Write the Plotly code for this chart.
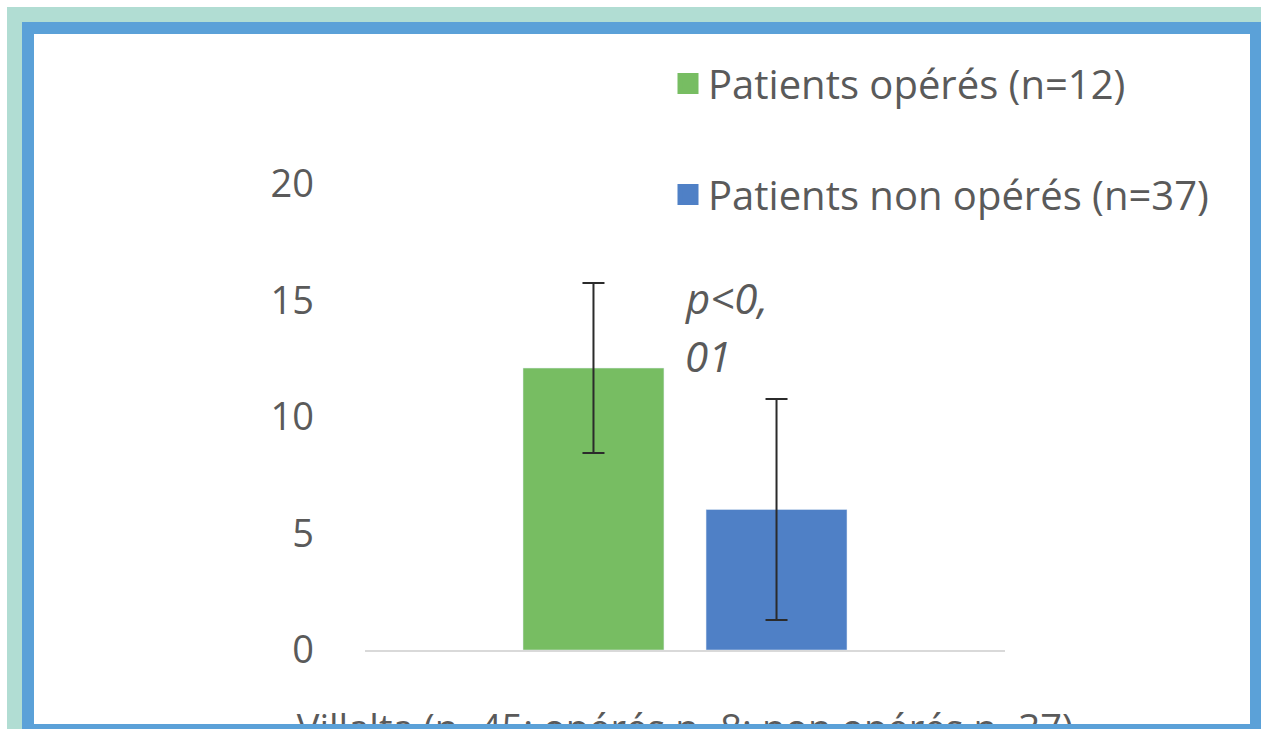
import plotly.graph_objects as go

# ---- data ----
categories = ["Villalta (n=45; opérés n=8; non opérés n=37)"]
series_names = ["Patients opérés (n=12)", "Patients non opérés (n=37)"]
operes = [12.1]
operes_err = [3.65]
non_operes = [6.03]
non_operes_err = [4.74]
y_ticks = [0, 5, 10, 15, 20]
p_label = ["p<0,", "01"]

colors = ["#77bd62", "#4f80c6"]
W, H = 1261, 729
L, R, T, B = 365, 1005, 184, 650  # plot area in px

def px_x(p):
    return (p - L) / (R - L)

def px_y(p):
    return (B - p) / (B - T)

FONT = "Open Sans"
GREY = "#5a5a5a"
FS = 38

fig = go.Figure()
for name, vals, errs, col, grp in [
    (series_names[0], operes, operes_err, colors[0], "a"),
    (series_names[1], non_operes, non_operes_err, colors[1], "b"),
]:
    fig.add_trace(go.Bar(
        x=categories, y=vals, name=name, marker_color=col,
        error_y=dict(type="data", array=errs, color="#2b2b2b", thickness=2, width=11),
        showlegend=False, legendgroup=grp,
    ))
# legend proxies (larger square swatches)
for name, col, grp in [(series_names[0], colors[0], "a"), (series_names[1], colors[1], "b")]:
    fig.add_trace(go.Scatter(
        x=[None], y=[None], mode="markers", name=name, legendgroup=grp,
        marker=dict(symbol="square", size=16, color=col, line=dict(color=col, width=5)),
    ))

shapes = [
    dict(type="rect", xref="paper", yref="paper", layer="below",
         x0=px_x(7), x1=px_x(W + 20), y0=px_y(7), y1=px_y(H + 20),
         fillcolor="#b1ddd3", line=dict(width=0)),
    dict(type="rect", xref="paper", yref="paper", layer="below",
         x0=px_x(22), x1=px_x(1262), y0=px_y(22), y1=px_y(736),
         fillcolor="white", line=dict(width=0)),
    dict(type="rect", xref="paper", yref="paper", layer="above",
         x0=px_x(28), x1=px_x(1256), y0=px_y(28), y1=px_y(730),
         fillcolor="rgba(0,0,0,0)", line=dict(color="#5ba1d8", width=12)),
]

annotations = [
    dict(text=p_label[0], xref="paper", yref="paper", x=px_x(683), y=px_y(297),
         xanchor="left", yanchor="middle", showarrow=False,
         font=dict(family=FONT, size=42, color=GREY, style="italic")),
    dict(text=p_label[1], xref="paper", yref="paper", x=px_x(683), y=px_y(355),
         xanchor="left", yanchor="middle", showarrow=False,
         font=dict(family=FONT, size=42, color=GREY, style="italic")),
]

fig.update_layout(
    width=W, height=H,
    margin=dict(l=L, r=W - R, t=T, b=H - B, pad=0, autoexpand=False),
    paper_bgcolor="white",
    plot_bgcolor="rgba(0,0,0,0)",
    barmode="group",
    bargap=0.428,
    bargroupgap=0.23,
    font=dict(family=FONT, color=GREY, size=FS),
    showlegend=True,
    legend=dict(
        x=px_x(668), y=px_y(51), xanchor="left", yanchor="top",
        font=dict(family=FONT, size=40, color=GREY),
        tracegroupgap=56, bgcolor="rgba(0,0,0,0)", itemwidth=30,
    ),
    xaxis=dict(
        showgrid=False, showline=True, linecolor="#d9d9d9", linewidth=2,
        ticks="", tickfont=dict(family=FONT, size=FS, color=GREY),
        ticklabelstandoff=44, automargin=False,
    ),
    yaxis=dict(
        range=[0, 20], tickvals=y_ticks, showgrid=False, zeroline=False,
        showline=False, ticks="", tickfont=dict(family=FONT, size=FS, color=GREY),
        ticklabelstandoff=50, automargin=False,
    ),
    shapes=shapes,
    annotations=annotations,
)

fig.write_html(
    "out.html",
    config={"displayModeBar": False},
    post_script="document.body.style.margin='0';document.body.style.overflow='hidden';",
)
